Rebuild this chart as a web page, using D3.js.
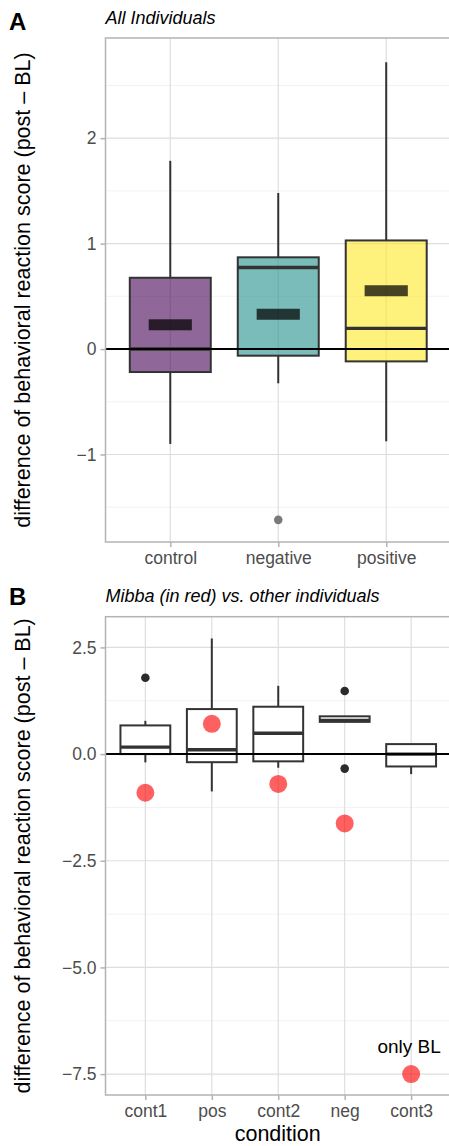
<!DOCTYPE html>
<html><head><meta charset="utf-8">
<script src="https://cdn.jsdelivr.net/npm/d3@7"></script>
<style>body{margin:0;background:#fff}svg{display:block}text{font-family:"Liberation Sans",Arial,Helvetica,sans-serif}</style>
</head><body>
<script>
// ---------- Panel A data ----------
const catsA = ["control", "negative", "positive"];
const lowA  = [-0.90, -0.325, -0.875];
const q1A   = [-0.218, -0.063, -0.117];
const medA  = [0.0, 0.774, 0.196];
const q3A   = [0.676, 0.87, 1.03];
const highA = [1.785, 1.48, 2.72];
const meanA = [0.23, 0.33, 0.553];
const outCatA = ["negative"];
const outValA = [-1.62];
const fillA = ["#440154", "#21908C", "#FDE725"];
const ticksA = [-1, 0, 1, 2];
const minorA = [-1.5, -0.5, 0.5, 1.5, 2.5];

// ---------- Panel B data ----------
const catsB = ["cont1", "pos", "cont2", "neg", "cont3"];
const lowB  = [-0.195, -0.875, -0.32, 0.755, -0.47];
const q1B   = [0.0, -0.19, -0.17, 0.755, -0.29];
const medB  = [0.164, 0.10, 0.49, 0.79, 0.0];
const q3B   = [0.672, 1.055, 1.11, 0.885, 0.234];
const highB = [0.78, 2.71, 1.60, 0.885, 0.234];
const outCatB = ["cont1", "neg", "neg"];
const outValB = [1.79, 1.48, -0.34];
const mibbaB = [-0.906, 0.71, -0.70, -1.625, -7.5];
const ticksB = [-7.5, -5.0, -2.5, 0.0, 2.5];
const minorB = [-6.25, -3.75, -1.25, 1.25];
const noteB = {cat: "cont3", y: -6.85, label: "only BL"};

const W = 449, H = 1146;
const svg = d3.select("body").append("svg").attr("width", W).attr("height", H);
const font = '"Liberation Sans",Arial,Helvetica,sans-serif';
const L = 105.5, R = 451;

function panel(o) {
  const g = svg.append("g");
  const x = d3.scalePoint().domain(o.cats).range([L, R]).padding(0.6);
  const y = d3.scaleLinear().domain(o.ydom).range([o.bottom, o.top]);
  const step = x.step();
  g.selectAll(".mn").data(o.minor).join("line")
    .attr("x1", L).attr("x2", R).attr("y1", d => y(d)).attr("y2", d => y(d))
    .attr("stroke", "#efefef").attr("stroke-width", 0.8);
  g.selectAll(".mj").data(o.ticks).join("line")
    .attr("x1", L).attr("x2", R).attr("y1", d => y(d)).attr("y2", d => y(d))
    .attr("stroke", "#dedede").attr("stroke-width", 1.2);
  g.selectAll(".mx").data(o.cats).join("line")
    .attr("x1", d => x(d)).attr("x2", d => x(d)).attr("y1", o.top).attr("y2", o.bottom)
    .attr("stroke", "#dedede").attr("stroke-width", 1.2);
  return {g, x, y, step};
}

function boxes(p, cats, low, q1, med, q3, high, fills, alpha) {
  const {g, x, y, step} = p;
  const bw = step * 0.75;
  cats.forEach((c, i) => {
    const cx = x(c);
    g.append("line").attr("x1", cx).attr("x2", cx).attr("y1", y(q3[i])).attr("y2", y(high[i]))
      .attr("stroke", "#333").attr("stroke-width", 2);
    g.append("line").attr("x1", cx).attr("x2", cx).attr("y1", y(q1[i])).attr("y2", y(low[i]))
      .attr("stroke", "#333").attr("stroke-width", 2);
    g.append("rect").attr("x", cx - bw / 2).attr("width", bw)
      .attr("y", y(q3[i])).attr("height", y(q1[i]) - y(q3[i]))
      .attr("fill", fills ? fills[i] : "#fff").attr("fill-opacity", fills ? alpha : 1)
      .attr("stroke", "#333").attr("stroke-width", 2);
    g.append("line").attr("x1", cx - bw / 2).attr("x2", cx + bw / 2)
      .attr("y1", y(med[i])).attr("y2", y(med[i]))
      .attr("stroke", "#333").attr("stroke-width", 3.4);
  });
}

function frame(p, o) {
  const {g, x, y} = p;
  g.append("rect").attr("x", L).attr("y", o.top).attr("width", R - L).attr("height", o.bottom - o.top)
    .attr("fill", "none").attr("stroke", "#b3b3b3").attr("stroke-width", 1.5);
  const ya = d3.axisLeft(y).tickValues(o.ticks).tickSize(5).tickPadding(4).tickFormat(o.fmt);
  const ay = g.append("g").attr("transform", `translate(${L},0)`).call(ya);
  ay.select(".domain").remove();
  ay.selectAll("line").attr("stroke", "#b3b3b3").attr("stroke-width", 1.5);
  ay.selectAll("text").attr("fill", "#4d4d4d").style("font-size", "17.5px").style("font-family", font)
    .text(d => o.fmt(d).replace("-", "\u2212"));
  const xa = d3.axisBottom(x).tickSize(5).tickPadding(5);
  const ax = g.append("g").attr("transform", `translate(0,${o.bottom})`).call(xa);
  ax.select(".domain").remove();
  ax.selectAll("line").attr("stroke", "#b3b3b3").attr("stroke-width", 1.5);
  ax.selectAll("text").attr("fill", "#4d4d4d").style("font-size", "17.5px").style("font-family", font);
  const cy = (o.top + o.bottom) / 2;
  svg.append("text").attr("transform", `translate(30,${cy}) rotate(-90)`).attr("text-anchor", "middle")
    .style("font-size", "21.5px").attr("fill", "#000")
    .text("difference of behavioral reaction score (post \u2013 BL)");
  svg.append("text").attr("x", L).attr("y", o.titleY).style("font-size", "18px").style("font-style", "italic")
    .attr("fill", "#000").text(o.title);
  svg.append("text").attr("x", 9).attr("y", o.tagY).style("font-size", "24px").style("font-weight", "bold")
    .attr("fill", "#000").text(o.tag);
}

// ---------- Panel A ----------
const oA = {cats: catsA, ydom: [-1.83, 2.95], top: 38, bottom: 542, ticks: ticksA, minor: minorA,
  fmt: d3.format("d"), title: "All Individuals", titleY: 24, tag: "A", tagY: 30};
const pA = panel(oA);
boxes(pA, catsA, lowA, q1A, medA, q3A, highA, fillA, 0.6);
catsA.forEach((c, i) => {
  pA.g.append("rect").attr("x", pA.x(c) - pA.step * 0.2).attr("width", pA.step * 0.4)
    .attr("y", pA.y(meanA[i]) - 5.5).attr("height", 11).attr("fill", "#000").attr("fill-opacity", 0.72);
});
pA.g.selectAll(".oa").data(outValA).join("circle")
  .attr("cx", (d, i) => pA.x(outCatA[i])).attr("cy", d => pA.y(d)).attr("r", 4.3).attr("fill", "#7a7a7a");
pA.g.append("line").attr("x1", L).attr("x2", R).attr("y1", pA.y(0)).attr("y2", pA.y(0))
  .attr("stroke", "#000").attr("stroke-width", 2);
frame(pA, oA);

// ---------- Panel B ----------
const oB = {cats: catsB, ydom: [-7.99, 3.22], top: 616.7, bottom: 1095, ticks: ticksB, minor: minorB,
  fmt: d3.format(".1f"), title: "Mibba (in red) vs. other individuals", titleY: 601.5, tag: "B", tagY: 605};
const pB = panel(oB);
boxes(pB, catsB, lowB, q1B, medB, q3B, highB, null, 1);
pB.g.selectAll(".ob").data(outValB).join("circle")
  .attr("cx", (d, i) => pB.x(outCatB[i])).attr("cy", d => pB.y(d)).attr("r", 4.3).attr("fill", "#2b2b2b");
pB.g.append("line").attr("x1", L).attr("x2", R).attr("y1", pB.y(0)).attr("y2", pB.y(0))
  .attr("stroke", "#000").attr("stroke-width", 2);
pB.g.selectAll(".mb").data(mibbaB).join("circle")
  .attr("cx", (d, i) => pB.x(catsB[i])).attr("cy", d => pB.y(d)).attr("r", 9)
  .attr("fill", "#ff0000").attr("fill-opacity", 0.62);
pB.g.append("text").attr("x", pB.x(noteB.cat) - 2).attr("y", pB.y(noteB.y)).attr("dy", "0.35em")
  .attr("text-anchor", "middle").style("font-size", "19px").attr("fill", "#000").text(noteB.label);
frame(pB, oB);
svg.append("text").attr("x", (L + R) / 2 - 0.5).attr("y", 1141).attr("text-anchor", "middle")
  .style("font-size", "21.5px").attr("fill", "#000").text("condition");
</script>
</body></html>
